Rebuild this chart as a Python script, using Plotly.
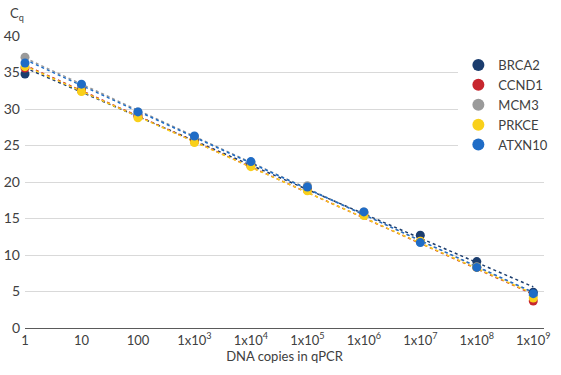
import numpy as np
import plotly.graph_objects as go

copies = [1, 10, 100, 1e3, 1e4, 1e5, 1e6, 1e7, 1e8, 1e9]
tick_text = ["1", "10", "100", "1x10<sup>3</sup>", "1x10<sup>4</sup>", "1x10<sup>5</sup>",
             "1x10<sup>6</sup>", "1x10<sup>7</sup>", "1x10<sup>8</sup>", "1x10<sup>9</sup>"]

brca2 = [34.8, 32.7, 29.2, 25.8, 22.4, 19.0, 15.8, 12.7, 9.1, 4.9]
ccnd1 = [35.6, 32.5, 29.0, 25.5, 22.2, 18.9, 15.5, 11.9, 8.3, 3.7]
mcm3 = [37.1, 33.2, 29.6, 26.2, 22.7, 19.5, 15.9, 11.8, 8.4, 4.5]
prkce = [35.8, 32.4, 28.8, 25.4, 22.1, 18.8, 15.4, 11.9, 8.3, 4.1]
atxn10 = [36.3, 33.4, 29.6, 26.3, 22.8, 19.3, 15.9, 11.7, 8.3, 4.7]

series = [
    ("BRCA2", brca2, "#1b3d6e"),
    ("CCND1", ccnd1, "#c7262e"),
    ("MCM3", mcm3, "#9a9a9a"),
    ("PRKCE", prkce, "#f9d01a"),
    ("ATXN10", atxn10, "#1f6cc6"),
]

fig = go.Figure()
lx = np.log10(copies)
for name, vals, col in series:
    a, b = np.polyfit(lx, vals, 1)
    fx = [copies[0], copies[-1]]
    fy = [b + a * np.log10(copies[0]), b + a * np.log10(copies[-1])]
    fig.add_trace(go.Scatter(x=fx, y=fy, mode="lines", showlegend=False,
                             line=dict(color=col, width=1.5, dash="dot"),
                             hoverinfo="skip", cliponaxis=False))
for name, vals, col in series:
    fig.add_trace(go.Scatter(x=copies, y=vals, mode="markers", name=name,
                             marker=dict(color=col, size=9), cliponaxis=False))

font = "Lato, 'Noto Sans', sans-serif"
fig.update_layout(
    width=561, height=375,
    margin=dict(l=25, r=8, t=36, b=47),
    plot_bgcolor="white", paper_bgcolor="white",
    font=dict(family=font, size=13, color="#404040"),
    showlegend=True,
    legend=dict(x=0.835, y=0.952, xanchor="left", yanchor="top",
                bgcolor="white", font=dict(size=13, color="#404040"),
                itemsizing="constant", tracegroupgap=0),
    xaxis=dict(type="log", range=[0, 9.19], tickvals=copies, ticktext=tick_text,
               showgrid=False, showline=True, linecolor="#5a5a5a", linewidth=1,
               ticks="", zeroline=False, tickfont=dict(size=13), automargin=False,
               title=dict(text="DNA copies in qPCR", font=dict(size=13), standoff=4)),
    yaxis=dict(range=[0, 40], tickvals=[0, 5, 10, 15, 20, 25, 30, 35, 40],
               showgrid=True, gridcolor="#d9d9d9", gridwidth=1, zeroline=False,
               showline=False, ticks="", tickfont=dict(size=14), ticklabelstandoff=4,
               automargin=False),
    annotations=[dict(text="C<sub>q</sub>", xref="paper", yref="paper",
                      x=-0.032, y=1.113, xanchor="left", yanchor="top",
                      showarrow=False, font=dict(size=13, color="#404040"))],
)
fig.write_html("out.html", config={"displayModeBar": False},
               post_script="document.body.style.margin='0px';")
